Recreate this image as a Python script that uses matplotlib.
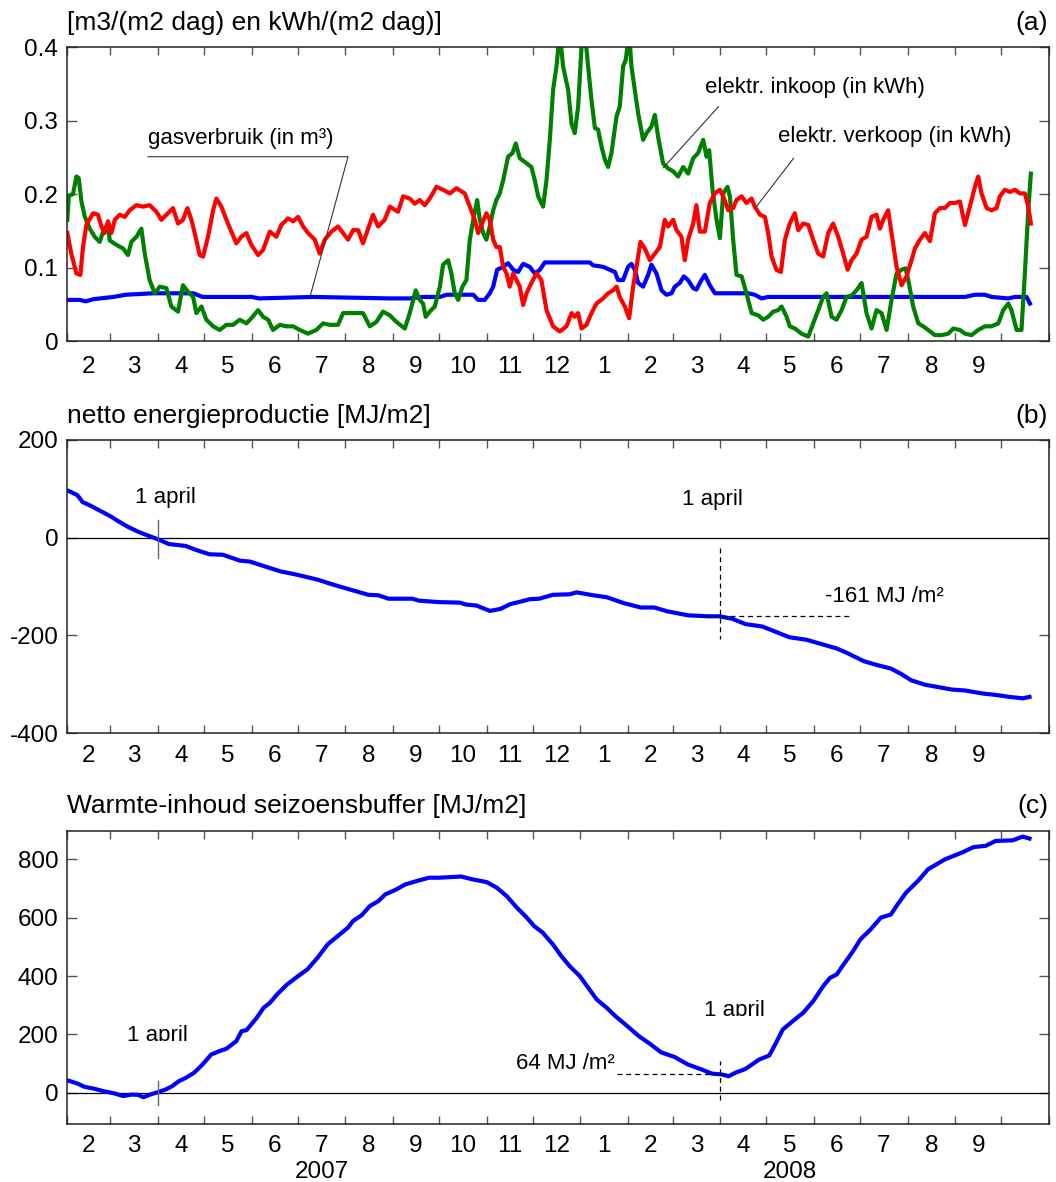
import numpy as np
import matplotlib
matplotlib.use('Agg')
import matplotlib.pyplot as plt
import matplotlib.dates as mdates
import matplotlib.transforms as mtransforms
from matplotlib.patches import Rectangle

plt.rcParams['font.family'] = ['Liberation Sans', 'DejaVu Sans']

# ---------------- data (days since 2007-02-01) ----------------
START = np.datetime64('2007-02-01T00')

month_labels = ["2", "3", "4", "5", "6", "7", "8", "9", "10", "11", "12",
                "1", "2", "3", "4", "5", "6", "7", "8", "9"]
year_labels = ["2007", "2008"]

# panel (a): elektr. inkoop (green)
inkoop_days = [0, 1, 3.7, 5.9, 7.4, 9.2, 11.3, 14.6, 17.8, 21.1, 23.3, 26.5, 27.6, 31.9, 36.3, 39.5, 41.7, 45, 48.2,
               50.4, 53.6, 56.9, 60.2, 64.5, 67.7, 72.1, 75.3, 78.6, 81.9, 84, 87.3, 90.5, 94.9, 99.2, 103.5, 107.9,
               112.2, 116.6, 119.8, 124.2, 127.4, 130.7, 133.9, 138.3, 142.6, 147, 151.3, 156.7, 162.1, 166.5, 170.8,
               176.2, 179.5, 186, 192.5, 196.9, 201.2, 205.5, 209.9, 214.2, 219.7, 222.9, 226.8, 229.4, 231.6, 233.3,
               235.9, 239.2, 242.5, 244.6, 247.9, 250.0, 252.2, 254.4, 257.2, 259.8, 262, 264.2, 266.8, 268.5, 270.7,
               272.8, 275, 277.2, 279.3, 281.5, 283.7, 286.9, 289.8, 291.9, 294.5, 298.9, 302.1, 304.3, 306.5, 309.7,
               311.9, 314.1, 316.2, 318.4, 320.6, 322.7, 326, 328.2, 330.3, 332.5, 334.7, 336.9, 339, 341.2, 343.4,
               345.5, 347.7, 349.9, 352, 354.2, 357.5, 359.6, 361.8, 363.5, 365.7, 367.2, 369.4, 371.6, 374.8, 377,
               380.2, 382.4, 384.6, 387.8, 391.1, 394.4, 397.6, 400.9, 404.1, 407.4, 410.6, 413.9, 416.1, 417.8, 420,
               422.6, 424.8, 426.9, 429.7, 431.3, 433.4, 435.6, 438.9, 442.1, 445.4, 449.7, 453, 456.2, 459.5, 462.7,
               464.9, 468.2, 470.3, 473.6, 477.9, 482.3, 485.5, 488.8, 492, 494.2, 497.5, 500.7, 504, 507.2, 510.5,
               513.7, 517, 520.2, 523.5, 526.7, 530, 533.3, 536.5, 539.8, 543, 545.6, 547.4, 550.6, 553.9, 557.1,
               560.4, 564.7, 569.1, 573.4, 576.7, 581, 584.3, 588.6, 592.9, 597.3, 601.6, 606, 609.2, 612.5, 614.6,
               617.9, 621.1, 623.3, 625.5, 627.2]
inkoop_vals = [0.165, 0.198, 0.20, 0.224, 0.222, 0.19, 0.17, 0.153, 0.142, 0.135, 0.149, 0.16, 0.137, 0.131, 0.126,
               0.117, 0.135, 0.142, 0.153, 0.119, 0.083, 0.065, 0.074, 0.072, 0.047, 0.04, 0.076, 0.067, 0.06, 0.038,
               0.047, 0.029, 0.02, 0.015, 0.022, 0.022, 0.029, 0.024, 0.031, 0.042, 0.033, 0.029, 0.015, 0.022, 0.02,
               0.02, 0.015, 0.01, 0.015, 0.024, 0.022, 0.022, 0.038, 0.038, 0.038, 0.02, 0.026, 0.04, 0.035, 0.026,
               0.017, 0.038, 0.069, 0.056, 0.051, 0.033, 0.040, 0.047, 0.074, 0.104, 0.110, 0.092, 0.065, 0.056,
               0.074, 0.083, 0.138, 0.165, 0.192, 0.165, 0.147, 0.138, 0.156, 0.178, 0.192, 0.201, 0.219, 0.251,
               0.256, 0.269, 0.249, 0.242, 0.237, 0.219, 0.197, 0.183, 0.219, 0.274, 0.342, 0.374, 0.42, 0.374,
               0.342, 0.296, 0.283, 0.319, 0.40, 0.42, 0.374, 0.328, 0.290, 0.288, 0.265, 0.247, 0.237, 0.256, 0.306,
               0.319, 0.374, 0.383, 0.42, 0.374, 0.342, 0.310, 0.274, 0.283, 0.292, 0.308, 0.278, 0.242, 0.235,
               0.231, 0.224, 0.237, 0.228, 0.249, 0.256, 0.274, 0.251, 0.260, 0.206, 0.165, 0.140, 0.201, 0.210,
               0.197, 0.138, 0.090, 0.088, 0.065, 0.038, 0.035, 0.029, 0.033, 0.040, 0.042, 0.047, 0.033, 0.020,
               0.017, 0.010, 0.006, 0.024, 0.042, 0.060, 0.065, 0.033, 0.029, 0.042, 0.060, 0.062, 0.069, 0.079,
               0.038, 0.017, 0.042, 0.038, 0.015, 0.056, 0.092, 0.097, 0.099, 0.083, 0.047, 0.024, 0.020, 0.015,
               0.008, 0.008, 0.010, 0.017, 0.015, 0.010, 0.008, 0.015, 0.020, 0.020, 0.024, 0.042, 0.051, 0.042,
               0.015, 0.015, 0.092, 0.178, 0.228]

# panel (a): elektr. verkoop (red)
verkoop_days = [0, 2.6, 5.9, 8.5, 10.2, 12.4, 16.8, 20, 22.2, 24.3, 26.5, 28.7, 30.9, 34.1, 37.4, 40.6, 45, 49.3,
                53.6, 58, 61.2, 64.5, 68.8, 72.1, 75.3, 78.2, 80.8, 82.9, 86.2, 88.4, 91.6, 94.9, 97, 100.3, 103.6,
                106.8, 110, 113.3, 116.6, 119.8, 124.2, 127.4, 131.8, 136.1, 139.3, 143.7, 147, 150.2, 153.5, 156.7,
                161.1, 164.3, 167.6, 171.9, 176.2, 179.5, 182.8, 186, 189.3, 192.5, 195.8, 199, 202.3, 206.6, 210,
                215.3, 218.6, 222.9, 226.2, 229.4, 232.7, 235.9, 240.3, 244.6, 249, 253.3, 258.7, 262, 265.2, 267.4,
                269.6, 272.8, 275, 277.2, 279.3, 281.5, 283.7, 285.9, 288, 290.2, 292.4, 294.5, 296.7, 298.9, 302.1,
                305.4, 308.6, 311.9, 316.2, 320.6, 324.9, 328.2, 330.3, 332.5, 334.7, 337.9, 341.2, 344.4, 348.8, 352,
                355.3, 357.5, 359.6, 362.9, 365.7, 368.3, 370.5, 373.1, 375.9, 379.2, 382.4, 385.7, 388.9, 391.1,
                394.4, 396.5, 399.8, 401.9, 404.1, 407.4, 409.5, 411.7, 415, 418.2, 421.5, 424.8, 426.9, 430.2, 433.4,
                435.6, 438.9, 442.1, 445.4, 447.5, 450.8, 454.1, 456.2, 458.4, 461.6, 464.5, 467.1, 470.3, 473.6,
                475.8, 479, 482.3, 485.5, 488.8, 492, 495.3, 498.5, 501.8, 505, 507.9, 510.5, 513.7, 517, 520.2,
                523.5, 526.7, 528.9, 531.1, 534.3, 536.5, 539.8, 543, 546.3, 549.5, 551.7, 555, 558.2, 561.5, 564.7,
                568, 571.2, 574.5, 577.7, 581, 584.3, 587.5, 590.8, 592.9, 595.1, 598.4, 601.6, 604.9, 607, 610.3,
                613.5, 616.8, 620, 623.3, 625.5, 627.2]
verkoop_vals = [0.147, 0.119, 0.092, 0.090, 0.128, 0.158, 0.174, 0.172, 0.156, 0.147, 0.163, 0.147, 0.165, 0.172,
                0.169, 0.178, 0.185, 0.183, 0.185, 0.176, 0.165, 0.172, 0.181, 0.160, 0.165, 0.181, 0.165, 0.147,
                0.117, 0.115, 0.142, 0.178, 0.194, 0.183, 0.165, 0.149, 0.133, 0.142, 0.147, 0.131, 0.117, 0.124,
                0.149, 0.142, 0.158, 0.167, 0.163, 0.169, 0.156, 0.147, 0.138, 0.119, 0.138, 0.149, 0.156, 0.147,
                0.138, 0.151, 0.151, 0.133, 0.153, 0.172, 0.156, 0.165, 0.183, 0.176, 0.197, 0.194, 0.187, 0.192,
                0.185, 0.194, 0.210, 0.206, 0.201, 0.208, 0.201, 0.183, 0.165, 0.147, 0.158, 0.174, 0.165, 0.138,
                0.128, 0.128, 0.101, 0.092, 0.074, 0.092, 0.083, 0.074, 0.049, 0.065, 0.079, 0.092, 0.083, 0.042,
                0.020, 0.013, 0.020, 0.038, 0.033, 0.038, 0.017, 0.022, 0.038, 0.051, 0.058, 0.065, 0.069, 0.074,
                0.060, 0.047, 0.031, 0.074, 0.101, 0.135, 0.126, 0.110, 0.119, 0.128, 0.165, 0.156, 0.165, 0.151,
                0.142, 0.110, 0.138, 0.160, 0.185, 0.149, 0.149, 0.188, 0.201, 0.206, 0.197, 0.178, 0.181, 0.192,
                0.197, 0.188, 0.194, 0.183, 0.172, 0.169, 0.147, 0.115, 0.097, 0.094, 0.138, 0.160, 0.174, 0.151,
                0.160, 0.158, 0.138, 0.119, 0.115, 0.147, 0.160, 0.142, 0.119, 0.097, 0.110, 0.119, 0.138, 0.142,
                0.169, 0.172, 0.153, 0.165, 0.178, 0.147, 0.101, 0.076, 0.088, 0.110, 0.126, 0.138, 0.147, 0.136,
                0.174, 0.181, 0.181, 0.188, 0.188, 0.190, 0.158, 0.183, 0.210, 0.224, 0.201, 0.181, 0.178, 0.181,
                0.197, 0.206, 0.203, 0.206, 0.201, 0.201, 0.183, 0.160]

# panel (a): gasverbruik (blue)
gas_days = [0, 8, 12, 17, 30, 38, 56, 82, 88, 120, 125, 160, 210, 223, 231.6, 242.5, 246.8, 264.2, 267.4, 271.7,
            275, 277.2, 279.8, 283.7, 286.9, 290.2, 293.4, 296.7, 301, 304.3, 307.6, 310.8, 340.1, 342.3, 348.8,
            353.1, 356.4, 358.5, 361.8, 365, 367.2, 369.4, 371.6, 374.8, 378.1, 380.2, 383.5, 386.8, 390, 393.3,
            395.4, 398.7, 401.3, 404.1, 407.4, 409.5, 412.8, 415, 418.2, 421.5, 424.7, 430.2, 443.2, 447.5, 451.9,
            456.2, 584.3, 590.8, 597.3, 601.6, 612.5, 616.8, 624.4, 626.6]
gas_vals = [0.056, 0.056, 0.054, 0.057, 0.060, 0.063, 0.065, 0.065, 0.060, 0.060, 0.058, 0.060, 0.058, 0.058, 0.060,
            0.060, 0.063, 0.063, 0.056, 0.056, 0.065, 0.074, 0.097, 0.101, 0.106, 0.097, 0.094, 0.105, 0.101, 0.092,
            0.097, 0.107, 0.107, 0.103, 0.101, 0.097, 0.094, 0.083, 0.083, 0.101, 0.105, 0.097, 0.079, 0.074, 0.090,
            0.104, 0.092, 0.069, 0.063, 0.065, 0.074, 0.079, 0.088, 0.083, 0.072, 0.070, 0.083, 0.090, 0.076, 0.065,
            0.065, 0.065, 0.065, 0.063, 0.058, 0.060, 0.060, 0.063, 0.063, 0.060, 0.058, 0.060, 0.060, 0.051]

# panel (b): netto energieproductie [MJ/m2]
netto_days = [0, 6.6, 9.9, 15.4, 22, 28.6, 33, 39.6, 46.2, 52.8, 58.8, 66, 77, 83.7, 92.5, 101.3, 112.3, 118.9,
              127.7, 138.7, 149.7, 162.9, 173.9, 184.9, 195.9, 202.5, 209.1, 224.5, 228.9, 242.1, 255.3, 259.7,
              266.3, 275.1, 281.8, 288.4, 295, 301, 307.2, 316, 327, 331.4, 342.4, 351.2, 362.2, 373.2, 382, 390.8,
              404, 417.3, 424.3, 432.7, 441.5, 452.5, 461.3, 470.1, 481.1, 492.1, 500.9, 507.5, 518.5, 527.3, 536.1,
              542.7, 549.3, 558.1, 566.9, 575.7, 584.5, 595.5, 604.3, 613.1, 621.9, 626.3]
netto_vals = [97, 87, 73, 65, 54, 43, 34, 22, 12, 4, -3, -13, -17, -25, -34, -35, -47, -49, -58, -69, -76, -86,
              -97, -107, -117, -118, -125, -125, -129, -132, -133, -137, -139, -150, -146, -136, -131, -126, -125,
              -117, -116, -112, -118, -122, -134, -143, -143, -151, -159, -161, -161, -166, -177, -182, -193, -204,
              -209, -219, -227, -236, -253, -261, -268, -279, -292, -301, -306, -311, -313, -319, -322, -326, -329,
              -326]

# panel (c): Warmte-inhoud seizoensbuffer [MJ/m2]
buffer_days = [0, 6.6, 11, 17.6, 24.2, 30.8, 36.3, 41.8, 46.2, 49.5, 53.9, 58.8, 63.8, 68.3, 72.6, 77, 82.6, 88,
               93.6, 99, 103.5, 110, 113.4, 116.7, 123.3, 127.7, 132, 136.5, 143, 149.7, 156.3, 162.9, 169.5, 176,
               182.7, 186, 191.5, 197, 202.5, 207, 213.5, 220, 229, 235.5, 242, 256.4, 264, 273, 279.5, 286, 292.7,
               298.4, 303.9, 309.4, 316, 321.5, 327, 333.6, 339.1, 344.6, 351.2, 356.7, 364.4, 372.1, 379.8, 386.4,
               395.2, 404, 412.9, 419.5, 426, 430.5, 434.9, 441.5, 450.3, 456.9, 461.3, 465.7, 472.3, 478.9, 485.5,
               492.1, 496.5, 500.9, 505.3, 510.8, 516.3, 522.9, 529.5, 536.1, 540.5, 546, 553.7, 560.3, 571.3, 582.3,
               590, 597.7, 604.3, 615.3, 621.9, 626.3]
buffer_vals = [43, 32, 21, 14, 5, -2, -11, -6, -7, -15, -6, 2, 11, 23, 40, 51, 69, 97, 131, 143, 151, 177, 211, 215,
               257, 291, 309, 337, 371, 398, 423, 463, 509, 537, 566, 589, 608, 640, 657, 680, 695, 714, 728, 737,
               737, 741, 731, 722, 703, 674, 634, 604, 571, 549, 509, 469, 434, 400, 360, 320, 291, 263, 229, 194,
               166, 139, 123, 97, 80, 66, 63, 57, 69, 82, 114, 128, 171, 217, 246, 274, 314, 366, 394, 406, 440, 480,
               526, 560, 600, 611, 646, 686, 726, 766, 800, 823, 842, 846, 863, 865, 878, 871]


def dn(days):
    """days since 2007-02-01 -> matplotlib date numbers"""
    d = START + np.round(np.asarray(days, dtype=float) * 24).astype('timedelta64[h]')
    return mdates.date2num(d)


# ---------------- figure layout ----------------
W, H = 1056, 1182
fig = plt.figure(figsize=(W / 100, H / 100), dpi=100)


def axes_px(left, top, right, bottom):
    return fig.add_axes([left / W, 1 - bottom / H, (right - left) / W, (bottom - top) / H])


ax_a = axes_px(67.3, 47.3, 1049, 341)
ax_b = axes_px(67.3, 440, 1049, 733)
ax_c = axes_px(67.3, 831, 1049, 1123.5)

x0 = mdates.date2num(np.datetime64('2007-02-01'))
x1 = mdates.date2num(np.datetime64('2008-11-01'))
month_starts = mdates.date2num(np.arange(np.datetime64('2007-02'), np.datetime64('2008-12'),
                                         np.timedelta64(1, 'M')).astype('datetime64[D]'))
mids = (month_starts[:-1] + month_starts[1:]) / 2
label_pos = mids[:len(month_labels)]

tick_col = '#555555'
LAB = 17.5
for ax, pad in ((ax_a, 10.8), (ax_b, 8.6), (ax_c, 8.2)):
    ax.set_xlim(x0, x1)
    ax.set_xticks(month_starts)
    ax.set_xticklabels([])
    ax.set_xticks(label_pos, minor=True)
    ax.set_xticklabels(month_labels, minor=True)
    ax.tick_params(axis='x', which='major', direction='in', length=6, width=1.0, color=tick_col,
                   top=True, bottom=True, labelbottom=False)
    ax.tick_params(axis='x', which='minor', length=0, labelsize=LAB, pad=pad)
    ax.tick_params(axis='y', which='major', direction='in', length=7, width=1.0, color=tick_col,
                   left=True, right=True, labelsize=LAB, pad=6.5)
    for s in ax.spines.values():
        s.set_linewidth(1.1)
        s.set_color('#222222')

LW = 3.0
# ---------------- panel a ----------------
ax_a.plot(dn(gas_days), gas_vals, color='#0000ff', lw=LW, solid_joinstyle='round')
ax_a.plot(dn(inkoop_days), inkoop_vals, color='#008000', lw=LW, solid_joinstyle='round')
ax_a.plot(dn(verkoop_days), verkoop_vals, color='#ff0000', lw=LW, solid_joinstyle='round')
ax_a.set_ylim(0, 0.4)
ax_a.set_yticks([0, 0.1, 0.2, 0.3, 0.4])
ax_a.set_yticklabels(['0', '0.1', '0.2', '0.3', '0.4'])

ANN = 16
ax_a.text(dn(52.5), 0.262, 'gasverbruik (in m³)', fontsize=ANN, ha='left', va='bottom')
ax_a.plot(dn([52.5, 182.7, 158]), [0.251, 0.251, 0.0603], color='#333333', lw=0.8)
ax_a.text(dn(415.3), 0.3305, 'elektr. inkoop (in kWh)', fontsize=ANN, ha='left', va='bottom')
ax_a.plot(dn([423.8, 388]), [0.319, 0.236], color='#333333', lw=0.8)
ax_a.text(dn(462.5), 0.2646, 'elektr. verkoop (in kWh)', fontsize=ANN, ha='left', va='bottom')
ax_a.plot(dn([472.7, 447.7]), [0.2488, 0.1807], color='#333333', lw=0.8)

# ---------------- panel b ----------------
ax_b.axhline(0, color='black', lw=0.9)
ax_b.plot(dn(netto_days), netto_vals, color='#0000ff', lw=LW, solid_joinstyle='round')
ax_b.set_ylim(-400, 200)
ax_b.set_yticks([-400, -200, 0, 200])
ax_b.set_yticklabels(['-400', '-200', '0', '200'])
ax_b.plot(dn([59, 59]), [-41, 36], color='#666666', lw=1.0)
ax_b.text(dn(44.2), 72, '1 april', fontsize=ANN, ha='left', va='baseline')
ax_b.text(dn(399.9), 66, '1 april', fontsize=ANN, ha='left', va='baseline')
ax_b.plot(dn([425, 425]), [-21, -207], color='black', lw=0.9, dashes=(4, 3))
ax_b.plot(dn([408.6, 508.8]), [-161, -161], color='black', lw=0.9, dashes=(4, 3))
ax_b.text(dn(493.4), -132.5, '-161 MJ /m²', fontsize=ANN, ha='left', va='baseline')

# ---------------- panel c ----------------
ax_c.axhline(0, color='black', lw=0.9)
ax_c.plot(dn(buffer_days), buffer_vals, color='#0000ff', lw=LW, solid_joinstyle='round')
ax_c.set_ylim(-105, 897)
ax_c.set_yticks([0, 200, 400, 600, 800])
ax_c.set_yticklabels(['0', '200', '400', '600', '800'])
ax_c.plot(dn([59, 59]), [-40, 40], color='#666666', lw=1.0)
for xd, yb in ((38.7, 177), (414.2, 262.6)):
    t = ax_c.text(dn(xd), yb, '1 april', fontsize=ANN, ha='left', va='baseline', clip_on=True)
    t.set_clip_path(Rectangle((dn(xd - 20), yb), dn(xd + 80) - dn(xd - 20), 300,
                              transform=ax_c.transData))
ax_c.plot(dn([425, 425]), [-23, 108], color='black', lw=0.9, dashes=(4, 3))
ax_c.plot(dn([357.8, 430]), [64, 64], color='black', lw=0.9, dashes=(4, 3))
ax_c.text(dn(356.3), 80, '64 MJ /m²', fontsize=ANN, ha='right', va='baseline')

# year labels below the month labels
blend = mtransforms.blended_transform_factory(ax_c.transData, ax_c.transAxes)
year_pos = [label_pos[5], label_pos[15]]
for xp, yl in zip(year_pos, year_labels):
    ax_c.text(xp, -0.186, yl, transform=blend, fontsize=LAB, ha='center', va='baseline')

# ---------------- titles ----------------
TIT = 19
titles = ['[m3/(m2 dag) en kWh/(m2 dag)]', 'netto energieproductie [MJ/m2]',
          'Warmte-inhoud seizoensbuffer [MJ/m2]']
tags = ['(a)', '(b)', '(c)']
baselines = [30, 422.7, 813.3]
for tt, tg, yb in zip(titles, tags, baselines):
    fig.text(67.3 / W, 1 - yb / H, tt, fontsize=TIT, ha='left', va='baseline')
    fig.text(1048 / W, 1 - yb / H, tg, fontsize=TIT, ha='right', va='baseline')

fig.savefig('out.png', dpi=100)
